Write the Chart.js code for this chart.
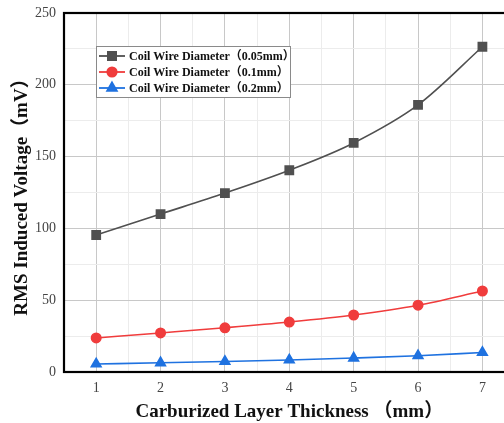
<!DOCTYPE html>
<html><head><meta charset="utf-8">
<script src="https://cdn.jsdelivr.net/npm/chart.js@4"></script>
<style>html,body{margin:0;padding:0;overflow:hidden;background:#fff;width:504px;height:423px}canvas{display:block}</style>
</head><body>
<canvas id="c" width="522" height="423"></canvas>
<script>
const thickness = [1, 2, 3, 4, 5, 6, 7];
const wire005 = [95.4, 110, 124.6, 140.5, 159.5, 186, 226.5];
const wire01 = [23.7, 27.2, 30.8, 34.8, 39.7, 46.5, 56.4];
const wire02 = [5.6, 6.4, 7.3, 8.4, 9.7, 11.3, 13.6];
const seriesLabels = ['Coil Wire Diameter（0.05mm）', 'Coil Wire Diameter（0.1mm）', 'Coil Wire Diameter（0.2mm）'];
const yTickLabels = [0, 50, 100, 150, 200, 250];
const xTitle = 'Carburized Layer Thickness （mm）';
const yTitle = 'RMS Induced Voltage（mV）';

const serif = "'Liberation Serif','DejaVu Serif','Noto Sans CJK SC',serif";
const colors = ['#505050', '#f03c3c', '#1f72e0'];
const styles = ['rect', 'circle', 'triangle'];
const radii = [5.8, 4.7, 5.6];

function mk(data, i) {
  return {
    label: seriesLabels[i],
    data: thickness.map((x, k) => ({x: x, y: data[k]})),
    borderColor: colors[i], backgroundColor: colors[i],
    pointStyle: styles[i], pointRadius: radii[i], pointHoverRadius: radii[i],
    borderWidth: 1.6, cubicInterpolationMode: 'monotone', fill: false
  };
}

const boxPlugin = {
  id: 'boxlegend',
  afterDraw(chart) {
    const ctx = chart.ctx, a = chart.chartArea;
    ctx.save();
    ctx.strokeStyle = '#000'; ctx.lineWidth = 2.2;
    ctx.strokeRect(a.left, a.top, a.right - a.left, a.bottom - a.top);
    const lx = 96.5, ly = 46.5, lw = 194, lh = 51;
    ctx.fillStyle = '#fff'; ctx.fillRect(lx, ly, lw, lh);
    ctx.strokeStyle = '#8a8a8a'; ctx.lineWidth = 1; ctx.strokeRect(lx, ly, lw, lh);
    chart.data.datasets.forEach((ds, i) => {
      const y = 56 + i * 16;
      ctx.strokeStyle = ds.borderColor; ctx.lineWidth = 1.8;
      ctx.beginPath(); ctx.moveTo(99, y); ctx.lineTo(125, y); ctx.stroke();
      Chart.helpers.drawPoint(ctx, {pointStyle: ds.pointStyle, radius: ds.pointRadius, borderWidth: 1, rotation: 0}, 112, y);
      ctx.fillStyle = ds.borderColor; ctx.fill();
      ctx.fillStyle = '#111'; ctx.font = "bold 12px " + serif;
      ctx.textBaseline = 'middle'; ctx.textAlign = 'left';
      ctx.fillText(ds.label, 129, y + 0.5);
    });
    ctx.restore();
  }
};

new Chart(document.getElementById('c'), {
  type: 'line',
  data: { datasets: [mk(wire005, 0), mk(wire01, 1), mk(wire02, 2)] },
  options: {
    responsive: false, animation: false,
    layout: { padding: { left: 0, right: 3, top: 13, bottom: 0 } },
    plugins: { legend: { display: false }, tooltip: { enabled: false } },
    scales: {
      x: {
        type: 'linear', min: 0.5, max: 7.5,
        afterFit(s) { s.height = 51; s.paddingLeft = 0; s.paddingRight = 0; },
        border: { display: false },
        grid: {
          drawTicks: false,
          color: c => Number.isInteger(c.tick.value) ? '#c8c8c8' : '#ececec',
          lineWidth: 1,
          dash: c => Number.isInteger(c.tick.value) ? [] : [2, 2]
        },
        ticks: {
          stepSize: 0.5, autoSkip: false, maxRotation: 0, padding: 8,
          color: '#444', font: { family: serif, size: 14 },
          callback: v => thickness.includes(v) ? String(v) : ''
        },
        title: { display: true, text: xTitle, color: '#111', padding: { top: 0, bottom: 0 },
          font: { family: serif, size: 19, weight: 'bold' } }
      },
      y: {
        min: 0, max: 250,
        afterFit(s) { s.width = 64; s.paddingTop = 0; s.paddingBottom = 0; },
        border: { display: false },
        grid: {
          drawTicks: false,
          color: c => yTickLabels.includes(c.tick.value) ? '#c8c8c8' : '#ececec',
          lineWidth: 1,
          dash: c => yTickLabels.includes(c.tick.value) ? [] : [2, 2]
        },
        ticks: {
          stepSize: 25, padding: 8, color: '#444', font: { family: serif, size: 14 },
          callback: v => yTickLabels.includes(v) ? String(v) : ''
        },
        title: { display: true, text: yTitle, color: '#111', padding: { top: 11, bottom: 0 },
          font: { family: serif, size: 19, weight: 'bold' } }
      }
    }
  },
  plugins: [boxPlugin]
});
</script>
</body></html>
